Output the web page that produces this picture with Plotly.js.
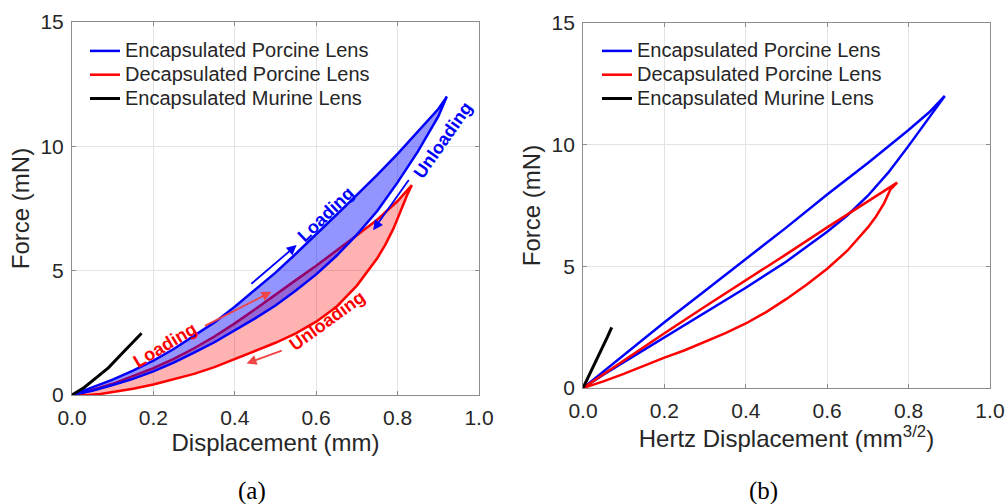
<!DOCTYPE html>
<html>
<head>
<meta charset="utf-8">
<script src="https://cdn.plot.ly/plotly-3.0.1.min.js"></script>
<style>html,body{margin:0;padding:0;background:#fff;}#chart{width:1008px;height:504px;}</style>
</head>
<body>
<div id="chart"></div>
<script>
// ---------- Panel (a): Force vs Displacement (mm) ----------
const seriesNames = ["Encapsulated Porcine Lens", "Decapsulated Porcine Lens", "Encapsulated Murine Lens"];

const encLoadX_a = [0,0.05,0.1,0.15,0.2,0.25,0.3,0.35,0.4,0.45,0.5,0.55,0.6,0.65,0.7,0.75,0.8,0.85,0.9,0.921];
const encLoadF_a = [0,0.3,0.62,0.98,1.38,1.85,2.38,2.92,3.55,4.22,4.92,5.68,6.45,7.25,8.05,8.85,9.7,10.6,11.5,12.0];
const encUnloadX_a = [0.921,0.9,0.85,0.8,0.75,0.7,0.65,0.6,0.55,0.5,0.45,0.4,0.35,0.3,0.25,0.2,0.15,0.1,0.05,0];
const encUnloadF_a = [12.0,11.2,9.8,8.55,7.4,6.45,5.6,4.85,4.2,3.6,3.08,2.6,2.12,1.7,1.3,0.95,0.65,0.4,0.17,0];

const decLoadX_a = [0,0.05,0.1,0.15,0.2,0.25,0.3,0.35,0.4,0.45,0.5,0.55,0.6,0.65,0.7,0.75,0.8,0.835];
const decLoadF_a = [0,0.2,0.45,0.75,1.08,1.45,1.88,2.35,2.88,3.45,4.05,4.62,5.2,5.8,6.42,7.05,7.8,8.44];
const decUnloadX_a = [0.835,0.825,0.81,0.79,0.77,0.75,0.7,0.65,0.6,0.55,0.5,0.45,0.4,0.35,0.3,0.25,0.2,0.15,0.1,0.07,0.04,0];
const decUnloadF_a = [8.44,8.1,7.5,6.7,6.05,5.5,4.4,3.55,2.95,2.48,2.1,1.78,1.45,1.12,0.85,0.62,0.42,0.25,0.12,0.04,0.0,0];

const murX_a = [0,0.03,0.06,0.09,0.12,0.15,0.171];
const murF_a = [0,0.3,0.7,1.1,1.62,2.12,2.48];

// ---------- Panel (b): Force vs Hertz Displacement (mm^3/2) ----------
const encLoadX_b = [0,0.05,0.1,0.2,0.3,0.4,0.5,0.6,0.7,0.8,0.85,0.889];
const encLoadF_b = [0,0.68,1.35,2.7,4.0,5.3,6.6,7.95,9.25,10.6,11.32,12.0];
const encUnloadX_b = [0.889,0.87,0.85,0.8,0.775,0.75,0.7,0.65,0.6,0.55,0.5,0.4,0.3,0.2,0.1,0.05,0];
const encUnloadF_b = [12.0,11.55,11.1,9.95,9.38,8.85,7.9,7.1,6.42,5.8,5.2,4.12,3.1,2.1,1.08,0.55,0];

const decLoadX_b = [0,0.05,0.1,0.2,0.3,0.4,0.5,0.6,0.7,0.772];
const decLoadF_b = [0,0.57,1.13,2.25,3.35,4.42,5.5,6.6,7.65,8.44];
const decUnloadX_b = [0.772,0.755,0.74,0.72,0.7,0.65,0.6,0.55,0.5,0.45,0.4,0.35,0.3,0.25,0.2,0.15,0.1,0.05,0];
const decUnloadF_b = [8.44,8.15,7.6,7.05,6.6,5.65,4.9,4.25,3.66,3.12,2.65,2.25,1.9,1.55,1.25,0.9,0.58,0.27,0];

const murX_b = [0,0.02,0.04,0.06,0.0705];
const murF_b = [0,0.68,1.38,2.1,2.49];

const xTicks = [0,0.2,0.4,0.6,0.8,1.0];
const xTickText = ["0.0","0.2","0.4","0.6","0.8","1.0"];
const yTicks = [0,5,10,15];

// ---------- styling ----------
const BLUE = "#0000ff", RED = "#ff0000", BLACK = "#000000";
const FONT = "Liberation Sans, Arial, sans-serif";
const TXT = "#262626";
const legendLabel = s => '<span style="font-size:20px">' + s + '</span>';

const loop = (lx, lf, ux, uf) => ({x: lx.concat(ux), y: lf.concat(uf)});
const encA = loop(encLoadX_a, encLoadF_a, encUnloadX_a, encUnloadF_a);
const decA = loop(decLoadX_a, decLoadF_a, decUnloadX_a, decUnloadF_a);
const encB = loop(encLoadX_b, encLoadF_b, encUnloadX_b, encUnloadF_b);
const decB = loop(decLoadX_b, decLoadF_b, decUnloadX_b, decUnloadF_b);

const traces = [
  // panel a: red fill, red line, blue fill, blue line (blue fill tints red line)
  {x: decA.x, y: decA.y, xaxis:"x", yaxis:"y", mode:"lines", fill:"toself",
   fillcolor:"rgba(255,0,0,0.3)", line:{width:0, color:"rgba(0,0,0,0)"}, showlegend:false, hoverinfo:"skip"},
  {x: decA.x, y: decA.y, xaxis:"x", yaxis:"y", mode:"lines", line:{color:RED, width:2.5},
   name:legendLabel(seriesNames[1]), legend:"legend", legendrank:2},
  {x: encA.x, y: encA.y, xaxis:"x", yaxis:"y", mode:"lines", fill:"toself",
   fillcolor:"rgba(0,0,255,0.42)", line:{width:0, color:"rgba(0,0,0,0)"}, showlegend:false, hoverinfo:"skip"},
  {x: encA.x, y: encA.y, xaxis:"x", yaxis:"y", mode:"lines", line:{color:BLUE, width:2.5},
   name:legendLabel(seriesNames[0]), legend:"legend", legendrank:1},
  {x: murX_a, y: murF_a, xaxis:"x", yaxis:"y", mode:"lines", line:{color:BLACK, width:3},
   name:legendLabel(seriesNames[2]), legend:"legend", legendrank:3},
  // panel b
  {x: encB.x, y: encB.y, xaxis:"x2", yaxis:"y2", mode:"lines", line:{color:BLUE, width:2.5},
   name:legendLabel(seriesNames[0]), legend:"legend2", legendrank:1},
  {x: decB.x, y: decB.y, xaxis:"x2", yaxis:"y2", mode:"lines", line:{color:RED, width:2.5},
   name:legendLabel(seriesNames[1]), legend:"legend2", legendrank:2},
  {x: murX_b, y: murF_b, xaxis:"x2", yaxis:"y2", mode:"lines", line:{color:BLACK, width:3},
   name:legendLabel(seriesNames[2]), legend:"legend2", legendrank:3}
];

function xax(domain, anchor, title) {
  return {domain:domain, anchor:anchor, range:[0,1], tickvals:xTicks, ticktext:xTickText,
    showgrid:true, gridcolor:"#e3e3e3", gridwidth:1, zeroline:false,
    showline:true, linecolor:"#8c8c8c", linewidth:1, mirror:"ticks",
    ticks:"inside", ticklen:4, tickcolor:"#8c8c8c", ticklabelstandoff:4,
    tickfont:{family:FONT, size:21, color:TXT},
    title:{text:title, font:{family:FONT, size:24, color:TXT}, standoff:2}};
}
function yax(domain, anchor) {
  return {domain:domain, anchor:anchor, range:[0,15], tickvals:yTicks,
    showgrid:true, gridcolor:"#e3e3e3", gridwidth:1, zeroline:false,
    showline:true, linecolor:"#8c8c8c", linewidth:1, mirror:"ticks",
    ticks:"inside", ticklen:4, tickcolor:"#8c8c8c", ticklabelstandoff:3,
    tickfont:{family:FONT, size:21, color:TXT},
    title:{text:"Force (mN)", font:{family:FONT, size:24, color:TXT}, standoff:4}};
}

const legendStyle = {font:{family:FONT, size:16, color:TXT}, bgcolor:"rgba(0,0,0,0)",
  borderwidth:0, xanchor:"left", yanchor:"top", tracegroupgap:0, itemwidth:30};

const annA = [
  {text:"<b>Loading</b>", x:0.625, y:7.26, textangle:-44, color:BLUE},
  {text:"<b>Unloading</b>", x:0.912, y:10.25, textangle:-55, color:BLUE},
  {text:"<b>Loading</b>", x:0.229, y:2.01, textangle:-31, color:RED},
  {text:"<b>Unloading</b>", x:0.626, y:2.99, textangle:-36, color:RED}
].map(a => ({text:a.text, x:a.x, y:a.y, xref:"x", yref:"y", showarrow:false, textangle:a.textangle,
  font:{family:FONT, size:18, color:a.color}}));

const arrowsA = [
  {x:0.552, y:6.03, ax:0.437, ay:4.42, c:BLUE},
  {x:0.74, y:6.63, ax:0.83, ay:8.71, c:BLUE},
  {x:0.49, y:4.15, ax:0.323, ay:2.75, c:"#f04545"},
  {x:0.429, y:1.27, ax:0.519, ay:1.81, c:"#f04545"}
].map(a => ({text:"", x:a.x, y:a.y, ax:a.ax, ay:a.ay, xref:"x", yref:"y", axref:"x", ayref:"y",
  showarrow:true, arrowhead:2, arrowsize:1.1, arrowwidth:1.8, arrowcolor:a.c}));

const captions = [
  {text:"(a)", x:252/1008, y:0.026},
  {text:"(b)", x:763/1008, y:0.026}
].map(c => ({text:c.text, x:c.x, y:c.y, xref:"paper", yref:"paper", showarrow:false,
  xanchor:"center", yanchor:"middle", font:{family:"Liberation Serif, DejaVu Serif, serif", size:25, color:"#000"}}));

const layout = {
  width:1008, height:504, margin:{l:0, r:0, t:0, b:0},
  paper_bgcolor:"#ffffff", plot_bgcolor:"#ffffff",
  xaxis: xax([0.0714,0.4752], "y", "Displacement (mm)"),
  yaxis: yax([0.2163,0.9563], "x"),
  xaxis2: xax([0.5784,0.9821], "y2", "Hertz Displacement (mm<sup>3/2</sup>)"),
  yaxis2: yax([0.2302,0.9544], "x2"),
  legend: Object.assign({x:85/1008, y:1-34/504}, legendStyle),
  legend2: Object.assign({x:597/1008, y:1-34/504}, legendStyle),
  annotations: annA.concat(arrowsA, captions),
  showlegend:true
};

Plotly.newPlot("chart", traces, layout, {staticPlot:true, displayModeBar:false});
</script>
</body>
</html>
